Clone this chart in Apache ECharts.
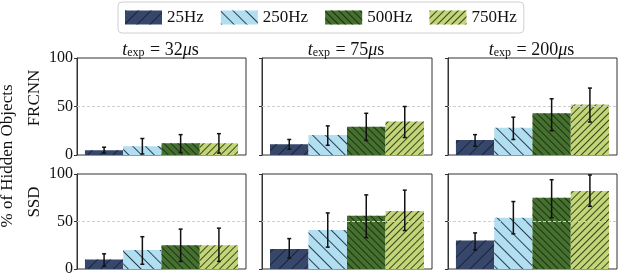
<!DOCTYPE html>
<html><head><meta charset="utf-8">
<script src="https://cdn.jsdelivr.net/npm/echarts@6/dist/echarts.min.js"></script>
<style>html,body{margin:0;padding:0;background:#fff}#c{width:620px;height:278px}</style>
</head><body><div id="c"></div>
<script>
const freqs = ['25Hz', '250Hz', '500Hz', '750Hz'];
const exposures = ['32', '75', '200'];
const detectors = ['FRCNN', 'SSD'];
const yTicks = [0, 50, 100];

// FRCNN: mean, error low, error high per exposure (32, 75, 200 µs) per frequency
const frcnnMean = [[5, 9, 12, 12], [11, 20.5, 29, 34.5], [15.5, 28, 43, 52]];
const frcnnLow  = [[2, 1, 2.5, 2], [6, 10, 15, 18], [9, 16, 25, 34]];
const frcnnHigh = [[8, 17, 21, 22], [16, 30, 43, 50], [21, 39, 58, 69]];
// SSD
const ssdMean = [[10, 20, 25, 25], [21, 41, 56, 61], [30, 54, 75, 82]];
const ssdLow  = [[3, 5, 8, 8], [11.5, 23, 33, 40.5], [20, 37, 54, 66]];
const ssdHigh = [[16, 34, 42, 43], [32, 59, 78, 83], [38, 71, 94, 99]];

const colors = ['#36476b', '#b2def1', '#46702f', '#c2d577'];
const hatchColor = ['#1c2438', '#2b3f4a', '#1c3211', '#3b4420'];
const hatchRot = [-Math.PI / 4, Math.PI / 4, Math.PI / 4, -Math.PI / 4];
const hatchGap = [8, 8, 3.2, 3.2];

const serif = 'Liberation Serif';
const gridLeft = [77, 262, 448];
const gridW = [169, 170, 169];
const gridTop = [58, 174];
const gridH = [97, 95];
const catGap = 0.094;

const grids = [], xAxes = [], yAxes = [], series = [], titles = [];
const means = [frcnnMean, ssdMean], lows = [frcnnLow, ssdLow], highs = [frcnnHigh, ssdHigh];

for (let r = 0; r < 2; r++) {
  for (let c = 0; c < 3; c++) {
    const gi = grids.length;
    grids.push({left: gridLeft[c], top: gridTop[r], width: gridW[c], height: gridH[r],
      show: true, borderColor: '#333', borderWidth: 1, backgroundColor: 'transparent'});
    xAxes.push({type: 'category', gridIndex: gi, data: ['x'], axisLine: {show: false},
      axisTick: {show: false}, axisLabel: {show: false}, splitLine: {show: false}});
    yAxes.push({type: 'value', gridIndex: gi, min: 0, max: 100, interval: 50,
      axisLine: {show: true, lineStyle: {color: '#333'}},
      axisTick: {show: true, length: 3, lineStyle: {color: '#333'}},
      axisLabel: {show: c === 0, fontFamily: serif, fontSize: 16, color: '#111', margin: 4,
        formatter: v => yTicks.indexOf(v) >= 0 ? String(v) : ''},
      splitLine: {show: false}});
    for (let k = 0; k < 4; k++) {
      const s = {
        type: 'bar', name: freqs[k], xAxisIndex: gi, yAxisIndex: gi,
        data: [means[r][c][k]], barGap: 0, barCategoryGap: (catGap * 100) + '%',
        itemStyle: {color: colors[k], decal: {
          symbol: 'rect', symbolSize: 1, dashArrayX: [1, 0], dashArrayY: [1, hatchGap[k]],
          rotation: hatchRot[k], color: hatchColor[k]}},
        emphasis: {disabled: true}, animation: false
      };
      if (k === 0) {
        s.markLine = {silent: true, symbol: 'none', label: {show: false}, animation: false,
          lineStyle: {color: '#cfcfcf', type: [3, 2], width: 1}, data: [{yAxis: 50}], z: 5};
      }
      series.push(s);
    }
    const ebData = [0, 1, 2, 3].map(k => [0, lows[r][c][k], highs[r][c][k], k]);
    series.push({
      type: 'custom', xAxisIndex: gi, yAxisIndex: gi, data: ebData, z: 10, animation: false,
      encode: {x: 0, y: [1, 2]}, silent: true,
      renderItem: function (params, api) {
        const lo = api.coord([0, api.value(1)]);
        const hi = api.coord([0, api.value(2)]);
        const band = api.size([1, 0])[0];
        const bw = band * (1 - catGap) / 4;
        const x = lo[0] + (api.value(3) - 1.5) * bw;
        const st = {stroke: '#111', lineWidth: 1.5};
        return {type: 'group', children: [
          {type: 'line', shape: {x1: x, y1: lo[1], x2: x, y2: hi[1]}, style: st},
          {type: 'line', shape: {x1: x - 2, y1: lo[1], x2: x + 2, y2: lo[1]}, style: st},
          {type: 'line', shape: {x1: x - 2, y1: hi[1], x2: x + 2, y2: hi[1]}, style: st}
        ]};
      }
    });
  }
}

for (let c = 0; c < 3; c++) {
  titles.push({
    text: '{i|t}{s|exp}{n| = ' + exposures[c] + '}{i|μ}{n|s}',
    left: gridLeft[c] + gridW[c] / 2 - 1, top: 41, textAlign: 'center', padding: 0,
    textStyle: {fontWeight: 'normal', rich: {
      i: {fontFamily: serif, fontStyle: 'italic', fontWeight: 'normal', fontSize: 18, color: '#111', lineHeight: 18},
      n: {fontFamily: serif, fontWeight: 'normal', fontSize: 18, color: '#111', lineHeight: 18},
      s: {fontFamily: serif, fontWeight: 'normal', fontSize: 12, color: '#111', verticalAlign: 'bottom', lineHeight: 12, padding: [0, 1, 0, 0]}
    }}
  });
}

const chart = echarts.init(document.getElementById('c'), null, {renderer: 'canvas'});
chart.setOption({
  animation: false,
  aria: {enabled: true, decal: {show: true}},
  title: titles,
  legend: {
    data: freqs, left: 118, top: 2, height: 30, padding: [7, 7, 7, 7],
    itemWidth: 37, itemHeight: 14, itemGap: 17, icon: 'rect',
    borderColor: '#d0d0d0', borderWidth: 1, borderRadius: 4,
    textStyle: {fontFamily: serif, fontSize: 17, color: '#111'},
    selectedMode: false
  },
  grid: grids, xAxis: xAxes, yAxis: yAxes, series: series,
  graphic: [
    {type: 'text', x: 8, y: 156, rotation: Math.PI / 2,
      style: {text: '% of Hidden Objects', fontFamily: serif, fontSize: 17, fill: '#111',
        align: 'center', verticalAlign: 'middle'}},
    {type: 'text', x: 35, y: 98, rotation: Math.PI / 2,
      style: {text: detectors[0], fontFamily: serif, fontSize: 17, fill: '#111',
        align: 'center', verticalAlign: 'middle'}},
    {type: 'text', x: 35, y: 202, rotation: Math.PI / 2,
      style: {text: detectors[1], fontFamily: serif, fontSize: 17, fill: '#111',
        align: 'center', verticalAlign: 'middle'}}
  ]
});
</script></body></html>
